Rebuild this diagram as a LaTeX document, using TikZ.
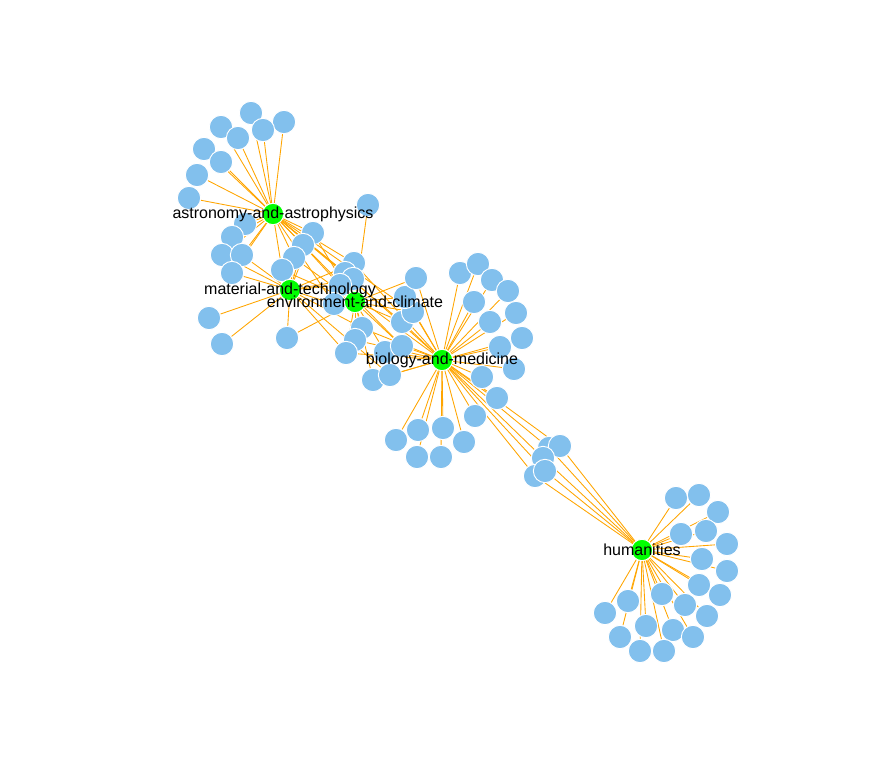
\documentclass[tikz,border=0pt]{standalone}
\usepackage{fontspec}
\setmainfont{Liberation Sans}
\definecolor{leafblue}{RGB}{130,192,237}
\definecolor{hubgreen}{RGB}{0,255,0}
\definecolor{linkorange}{RGB}{255,165,0}
\pgfdeclarelayer{background}
\pgfsetlayers{background,main}
\tikzset{
	leaf/.style={circle,fill=leafblue,draw=white,line width=0.7pt,minimum size=17.5pt,inner sep=0pt},
	hub/.style={circle,fill=hubgreen,draw=white,line width=0.7pt,minimum size=16pt,inner sep=0pt},
	hublabel/.style={font=\fontsize{12}{14}\selectfont,inner sep=0pt},
	link/.style={draw=linkorange,line width=0.65pt}
}
\begin{document}
\begin{tikzpicture}[x=0.75pt,y=-0.75pt]
	\useasboundingbox (0,0) rectangle (879,784);%same frame as the reference

	% astronomy side
	\foreach \i/\x/\y in {1/251/113,2/284/122,3/221/127,4/263/130,5/238/138,6/204/149,7/221/162,
		8/197/175,9/189/198,10/245/224,11/232/237,12/222/255,13/242/255,14/232/273}{
		\node[leaf] (a\i) at (\x,\y) {};
	}

	% shared nodes in the middle
	\foreach \i/\x/\y in {1/313/233,2/303/245,3/294/258,4/282/270,5/354/263,6/345/273,7/353/279,
		8/340/285,9/334/304,10/362/328,11/355/340,12/346/353,13/385/352,14/402/346,15/373/380,
		16/390/375,17/402/322,18/413/312,19/405/297,20/416/278,21/368/205}{
		\node[leaf] (m\i) at (\x,\y) {};
	}

	% material side
	\foreach \i/\x/\y in {1/209/318,2/222/344,3/287/338}{
		\node[leaf] (t\i) at (\x,\y) {};
	}

	% biology side
	\foreach \i/\x/\y in {1/460/273,2/478/264,3/492/280,4/474/302,5/508/291,6/516/313,7/490/322,
		8/522/338,9/500/347,10/514/369,11/482/377,12/497/398,13/475/416,14/396/440,15/418/430,
		16/443/428,17/464/442,18/417/457,19/441/457}{
		\node[leaf] (b\i) at (\x,\y) {};
	}

	% between biology and humanities
	\foreach \i/\x/\y in {1/549/448,2/560/446,3/543/458,4/535/476,5/545/471}{
		\node[leaf] (c\i) at (\x,\y) {};
	}

	% humanities side
	\foreach \i/\x/\y in {1/676/498,2/699/495,3/718/512,4/681/534,5/706/531,6/727/544,7/702/559,
		8/727/571,9/699/585,10/720/595,11/685/605,12/707/616,13/662/594,14/628/601,15/605/613,
		16/646/626,17/673/630,18/693/637,19/620/637,20/640/651,21/664/651}{
		\node[leaf] (h\i) at (\x,\y) {};
	}

	\node[hub] (astro) at (273,214) {};
	\node[hub] (matter) at (290,290) {};
	\node[hub] (envir) at (355,302) {};
	\node[hub] (bio) at (442,360) {};
	\node[hub] (human) at (642,550) {};

	\begin{pgfonlayer}{background}
		\foreach \n in {a1,a2,a3,a4,a5,a6,a7,a8,a9,a10,a11,a12,a13,a14,
			m1,m2,m3,m4,m5,m6,m7,m9,m14,m17,m18}{
			\draw[link] (astro) -- (\n);
		}
		\foreach \n in {a12,a13,a14,m1,m2,m3,m4,m5,m7,m8,m9,m10,m12,m16,t1,t2,t3}{
			\draw[link] (matter) -- (\n);
		}
		\foreach \n in {m1,m2,m3,m4,m5,m6,m7,m8,m9,m10,m11,m12,m13,m14,m15,m17,m18,m19,m20,m21,t3}{
			\draw[link] (envir) -- (\n);
		}
		\foreach \n in {m5,m6,m8,m10,m11,m12,m13,m14,m15,m16,m17,m18,m19,m20,
			b1,b2,b3,b4,b5,b6,b7,b8,b9,b10,b11,b12,b13,b14,b15,b16,b17,b18,b19,c1,c2,c3,c4,c5}{
			\draw[link] (bio) -- (\n);
		}
		\foreach \n in {c1,c2,c3,c4,c5,h1,h2,h3,h4,h5,h6,h7,h8,h9,h10,h11,h12,h13,h14,h15,h16,
			h17,h18,h19,h20,h21}{
			\draw[link] (human) -- (\n);
		}
	\end{pgfonlayer}

	\node[hublabel] (astro-lab) at (astro) {astronomy-and-astrophysics};
	\node[hublabel] (matter-lab) at (matter) {material-and-technology};
	\node[hublabel] (envir-lab) at (envir) {environment-and-climate};
	\node[hublabel] (bio-lab) at (bio) {biology-and-medicine};
	\node[hublabel] (human-lab) at (human) {humanities};
\end{tikzpicture}
\end{document}
